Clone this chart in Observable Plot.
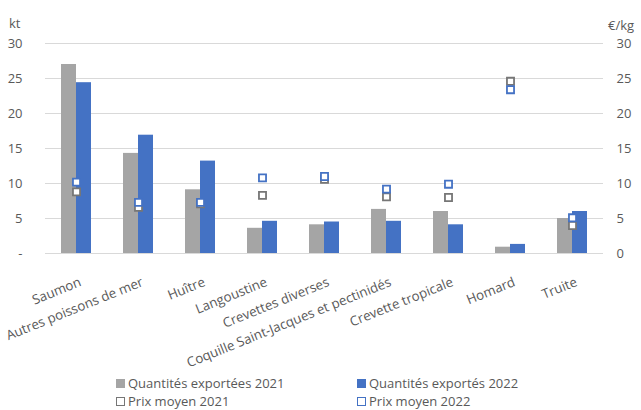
<!DOCTYPE html>
<html>
<head>
<meta charset="utf-8">
<script src="https://cdn.jsdelivr.net/npm/d3@7"></script>
<script src="https://cdn.jsdelivr.net/npm/@observablehq/plot@0.6"></script>
<style>
  body { margin: 0; background: #fff; font-family: "Open Sans", "Noto Sans", sans-serif; }
  #wrap { position: relative; width: 641px; height: 410px; overflow: hidden; }
  .legend { position: absolute; font-size: 13px; line-height: 15px; color: #595959; display: flex; align-items: center; white-space: nowrap; }
  .sw { width: 9px; height: 9px; margin-right: 3px; box-sizing: border-box; }
  .unit { position: absolute; font-size: 13px; color: #595959; }
</style>
</head>
<body>
<div id="wrap">
  <div id="chart"></div>
</div>
<script>
const categories = ["Saumon", "Autres poissons de mer", "Huître", "Langoustine", "Crevettes diverses",
  "Coquille Saint-Jacques et pectinidés", "Crevette tropicale", "Homard", "Truite"];
const qty2021 = [27.0, 14.3, 9.1, 3.6, 4.1, 6.3, 6.0, 0.9, 5.0];
const qty2022 = [24.4, 16.9, 13.2, 4.6, 4.5, 4.6, 4.1, 1.3, 6.0];
const prix2021 = [8.8, 6.6, 7.1, 8.3, 10.6, 8.1, 8.0, 24.6, 4.0];
const prix2022 = [10.2, 7.3, 7.3, 10.8, 11.0, 9.2, 9.9, 23.4, 5.1];
const yTicks = [0, 5, 10, 15, 20, 25, 30];
const seriesNames = ["Quantités exportées 2021", "Quantités exportés 2022", "Prix moyen 2021", "Prix moyen 2022"];
const colors = {gray: "#a5a5a5", blue: "#4472c4", grayMarker: "#767676"};

const rows = categories.map((c, i) => ({c, q21: qty2021[i], q22: qty2022[i], p21: prix2021[i], p22: prix2022[i]}));

const W = 641, H = 370;
const mL = 45, mR = 38, mT = 43, mB = H - 253;
const band = (W - mL - mR) / categories.length;
const barW = 15;

const chart = Plot.plot({
  width: W, height: H,
  marginLeft: mL, marginRight: mR, marginTop: mT, marginBottom: mB,
  style: {fontFamily: "'Open Sans', 'Noto Sans', sans-serif", fontSize: "13px", color: "#595959", background: "#fff"},
  x: {domain: categories, padding: 0, label: null},
  y: {domain: [0, 30], label: null},
  marks: [
    Plot.gridY(yTicks, {stroke: "#d9d9d9", strokeOpacity: 1, strokeWidth: 1}),
    Plot.barY(rows, {x: "c", y: "q21", fill: colors.gray, insetLeft: band/2 - barW, insetRight: band/2}),
    Plot.barY(rows, {x: "c", y: "q22", fill: colors.blue, insetLeft: band/2, insetRight: band/2 - barW}),
    Plot.dot(rows, {x: "c", y: "p21", symbol: "square", r: 4, stroke: colors.grayMarker, strokeWidth: 1.8, fill: "#fff"}),
    Plot.dot(rows, {x: "c", y: "p22", symbol: "square", r: 4, stroke: colors.blue, strokeWidth: 1.8, fill: "#fff"}),
    Plot.axisY(yTicks, {anchor: "left", tickSize: 0, tickPadding: 23, label: null,
      tickFormat: d => d === 0 ? "-" : String(d), fill: "#595959", fontSize: 13}),
    Plot.axisY(yTicks, {anchor: "right", tickSize: 0, tickPadding: 13, textAnchor: "start", label: null,
      tickFormat: d => String(d), fill: "#595959", fontSize: 13}),
    Plot.axisX(categories, {tickSize: 0, tickRotate: -22, tickPadding: 8, label: null, fill: "#595959", fontSize: 13.3, dx: 4, dy: 20})
  ]
});
document.getElementById("chart").appendChild(chart);

const wrap = document.getElementById("wrap");
function addUnit(text, left, top) {
  const d = document.createElement("div");
  d.className = "unit"; d.textContent = text;
  d.style.left = left + "px"; d.style.top = top + "px";
  wrap.appendChild(d);
}
addUnit("kt", 9, 14);
addUnit("€/kg", 608, 16);

const legendItems = [
  {name: seriesNames[0], left: 116, top: 376, fill: colors.gray, stroke: "none"},
  {name: seriesNames[1], left: 357, top: 376, fill: colors.blue, stroke: "none"},
  {name: seriesNames[2], left: 116, top: 394, fill: "#fff", stroke: colors.grayMarker},
  {name: seriesNames[3], left: 357, top: 394, fill: "#fff", stroke: colors.blue}
];
legendItems.forEach(it => {
  const d = document.createElement("div");
  d.className = "legend";
  d.style.left = it.left + "px"; d.style.top = it.top + "px";
  const s = document.createElement("span");
  s.className = "sw";
  s.style.background = it.fill;
  if (it.stroke !== "none") s.style.border = "1.5px solid " + it.stroke;
  d.appendChild(s);
  const t = document.createElement("span");
  t.textContent = it.name;
  d.appendChild(t);
  wrap.appendChild(d);
});
</script>
</body>
</html>
